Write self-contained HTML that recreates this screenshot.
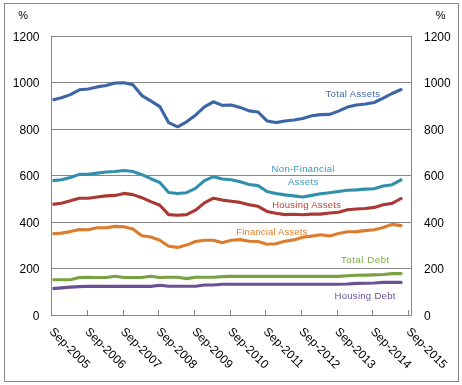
<!DOCTYPE html>
<html><head><meta charset="utf-8"><style>
html,body{margin:0;padding:0;background:#fff;}
body{width:462px;height:385px;overflow:hidden;}
svg{display:block;will-change:transform;}
</style></head><body>
<svg width="462" height="385" viewBox="0 0 462 385">
<rect x="0" y="0" width="462" height="385" fill="#fff"/>
<rect x="4.5" y="3.5" width="454" height="378" fill="none" stroke="#868686" stroke-width="1"/>
<rect x="51" y="36" width="361" height="1" fill="#868686"/>
<rect x="51" y="82" width="361" height="1" fill="#868686"/>
<rect x="51" y="129" width="361" height="1" fill="#868686"/>
<rect x="51" y="175" width="361" height="1" fill="#868686"/>
<rect x="51" y="222" width="361" height="1" fill="#868686"/>
<rect x="51" y="268" width="361" height="1" fill="#868686"/>
<rect x="51" y="36" width="1" height="280" fill="#868686"/>
<rect x="411" y="36" width="1" height="280" fill="#868686"/>
<rect x="51" y="315" width="361" height="1" fill="#868686"/>
<rect x="87" y="310" width="1" height="5" fill="#868686"/>
<rect x="123" y="310" width="1" height="5" fill="#868686"/>
<rect x="158" y="310" width="1" height="5" fill="#868686"/>
<rect x="194" y="310" width="1" height="5" fill="#868686"/>
<rect x="230" y="310" width="1" height="5" fill="#868686"/>
<rect x="265" y="310" width="1" height="5" fill="#868686"/>
<rect x="301" y="310" width="1" height="5" fill="#868686"/>
<rect x="337" y="310" width="1" height="5" fill="#868686"/>
<rect x="372" y="310" width="1" height="5" fill="#868686"/>
<rect x="408" y="310" width="1" height="5" fill="#868686"/>
<polyline points="52.5,99.9 61.4,97.8 70.4,94.6 79.3,89.8 88.2,89.0 97.2,86.9 106.1,85.5 115.1,83.0 124.0,82.7 132.9,84.8 141.9,95.6 150.8,100.9 159.8,106.6 168.7,122.7 177.6,126.8 186.6,121.8 195.5,115.2 204.4,106.9 213.4,101.8 222.3,105.4 231.2,105.0 240.2,107.4 249.1,110.9 258.1,112.0 267.0,120.9 275.9,122.6 284.9,121.0 293.8,120.0 302.8,118.5 311.7,115.8 320.6,114.6 329.6,114.4 338.5,111.1 347.4,107.1 356.4,105.0 365.3,104.0 374.2,102.5 383.2,98.2 392.1,93.5 401.1,89.5" fill="none" stroke="#3d65a5" stroke-width="3.1" stroke-linejoin="round" stroke-linecap="butt"/>
<circle cx="401.06" cy="89.5" r="1.55" fill="#3d65a5"/>
<polyline points="52.5,180.6 61.4,179.8 70.4,177.5 79.3,174.4 88.2,174.4 97.2,173.1 106.1,172.0 115.1,171.5 124.0,170.5 132.9,171.5 141.9,174.7 150.8,178.7 159.8,182.5 168.7,192.5 177.6,193.5 186.6,192.7 195.5,188.4 204.4,180.6 213.4,176.7 222.3,179.0 231.2,179.8 240.2,181.8 249.1,184.5 258.1,185.6 267.0,191.5 275.9,193.5 284.9,194.9 293.8,195.9 302.8,197.0 311.7,195.4 320.6,193.8 329.6,192.7 338.5,191.5 347.4,190.2 356.4,189.9 365.3,189.1 374.2,188.8 383.2,186.0 392.1,184.7 401.1,179.8" fill="none" stroke="#3090ac" stroke-width="3.1" stroke-linejoin="round" stroke-linecap="butt"/>
<circle cx="401.06" cy="179.8" r="1.55" fill="#3090ac"/>
<polyline points="52.5,204.4 61.4,203.2 70.4,200.8 79.3,198.2 88.2,198.2 97.2,197.0 106.1,195.9 115.1,195.4 124.0,193.4 132.9,194.6 141.9,197.7 150.8,201.6 159.8,205.2 168.7,214.6 177.6,215.3 186.6,214.6 195.5,210.2 204.4,202.9 213.4,198.2 222.3,200.1 231.2,201.3 240.2,202.4 249.1,204.7 258.1,206.3 267.0,211.4 275.9,213.3 284.9,214.6 293.8,214.3 302.8,214.7 311.7,214.1 320.6,214.1 329.6,213.0 338.5,212.2 347.4,209.8 356.4,209.0 365.3,208.5 374.2,207.4 383.2,204.7 392.1,203.4 401.1,198.5" fill="none" stroke="#aa3834" stroke-width="3.1" stroke-linejoin="round" stroke-linecap="butt"/>
<circle cx="401.06" cy="198.5" r="1.55" fill="#aa3834"/>
<polyline points="52.5,233.7 61.4,233.1 70.4,231.6 79.3,229.6 88.2,229.7 97.2,227.8 106.1,227.7 115.1,226.4 124.0,226.7 132.9,228.9 141.9,235.7 150.8,237.0 159.8,240.2 168.7,246.2 177.6,247.4 186.6,245.1 195.5,241.5 204.4,240.2 213.4,240.2 222.3,242.7 231.2,240.2 240.2,239.6 249.1,241.2 258.1,241.5 267.0,244.3 275.9,243.8 284.9,241.2 293.8,239.9 302.8,237.3 311.7,236.1 320.6,234.7 329.6,236.0 338.5,233.6 347.4,231.7 356.4,231.6 365.3,230.6 374.2,229.8 383.2,227.5 392.1,224.4 401.1,225.6" fill="none" stroke="#dc7c2e" stroke-width="3.1" stroke-linejoin="round" stroke-linecap="butt"/>
<circle cx="401.06" cy="225.6" r="1.55" fill="#dc7c2e"/>
<polyline points="52.5,279.7 61.4,279.7 70.4,279.7 79.3,277.6 88.2,277.4 97.2,277.5 106.1,277.5 115.1,276.3 124.0,277.5 132.9,277.5 141.9,277.5 150.8,276.3 159.8,277.5 168.7,277.2 177.6,277.3 186.6,278.6 195.5,277.3 204.4,277.3 213.4,277.3 222.3,276.6 231.2,276.4 240.2,276.4 249.1,276.4 258.1,276.4 267.0,276.4 275.9,276.4 284.9,276.4 293.8,276.4 302.8,276.4 311.7,276.4 320.6,276.4 329.6,276.4 338.5,276.4 347.4,275.7 356.4,275.2 365.3,275.1 374.2,274.9 383.2,274.5 392.1,273.6 401.1,273.6" fill="none" stroke="#7aa242" stroke-width="3.1" stroke-linejoin="round" stroke-linecap="butt"/>
<circle cx="401.06" cy="273.6" r="1.55" fill="#7aa242"/>
<polyline points="52.5,288.6 61.4,287.9 70.4,287.1 79.3,286.6 88.2,286.2 97.2,286.4 106.1,286.4 115.1,286.4 124.0,286.4 132.9,286.4 141.9,286.4 150.8,286.4 159.8,285.3 168.7,286.2 177.6,286.3 186.6,286.3 195.5,286.2 204.4,285.0 213.4,285.0 222.3,284.3 231.2,284.2 240.2,284.2 249.1,284.2 258.1,284.2 267.0,284.2 275.9,284.2 284.9,284.2 293.8,284.2 302.8,284.2 311.7,284.2 320.6,284.2 329.6,284.2 338.5,284.2 347.4,284.0 356.4,283.4 365.3,283.3 374.2,283.0 383.2,282.4 392.1,282.3 401.1,282.4" fill="none" stroke="#6a5194" stroke-width="3.1" stroke-linejoin="round" stroke-linecap="butt"/>
<circle cx="401.06" cy="282.4" r="1.55" fill="#6a5194"/>
<g font-family='"Liberation Sans", sans-serif' font-size="12" fill="#000">
<text x="18.3" y="19.2" font-size="11">%</text>
<text x="435.8" y="19.2" font-size="11">%</text>
<text x="39.5" y="41.2" text-anchor="end">1200</text>
<text x="424" y="41.2">1200</text>
<text x="39.5" y="87.2" text-anchor="end">1000</text>
<text x="424" y="87.2">1000</text>
<text x="39.5" y="134.2" text-anchor="end">800</text>
<text x="424" y="134.2">800</text>
<text x="39.5" y="180.2" text-anchor="end">600</text>
<text x="424" y="180.2">600</text>
<text x="39.5" y="227.2" text-anchor="end">400</text>
<text x="424" y="227.2">400</text>
<text x="39.5" y="273.2" text-anchor="end">200</text>
<text x="424" y="273.2">200</text>
<text x="39.5" y="320.2" text-anchor="end">0</text>
<text x="424" y="320.2">0</text>
<text x="0" y="0" transform="translate(55.0,326) rotate(45) translate(0,9)">Sep-2005</text>
<text x="0" y="0" transform="translate(90.7,326) rotate(45) translate(0,9)">Sep-2006</text>
<text x="0" y="0" transform="translate(126.4,326) rotate(45) translate(0,9)">Sep-2007</text>
<text x="0" y="0" transform="translate(162.1,326) rotate(45) translate(0,9)">Sep-2008</text>
<text x="0" y="0" transform="translate(197.8,326) rotate(45) translate(0,9)">Sep-2009</text>
<text x="0" y="0" transform="translate(233.5,326) rotate(45) translate(0,9)">Sep-2010</text>
<text x="0" y="0" transform="translate(269.2,326) rotate(45) translate(0,9)">Sep-2011</text>
<text x="0" y="0" transform="translate(304.9,326) rotate(45) translate(0,9)">Sep-2012</text>
<text x="0" y="0" transform="translate(340.6,326) rotate(45) translate(0,9)">Sep-2013</text>
<text x="0" y="0" transform="translate(376.3,326) rotate(45) translate(0,9)">Sep-2014</text>
<text x="0" y="0" transform="translate(412.0,326) rotate(45) translate(0,9)">Sep-2015</text>
</g>
<text x="325.5" y="96.5" font-family='"Liberation Sans", sans-serif' font-size="9.5" letter-spacing="0.35" fill="#3e68a8" text-anchor="start">Total Assets</text>
<text x="303.2" y="172" font-family='"Liberation Sans", sans-serif' font-size="9.5" letter-spacing="0.35" fill="#3399b8" text-anchor="middle">Non-Financial</text>
<text x="303.2" y="184.5" font-family='"Liberation Sans", sans-serif' font-size="9.5" letter-spacing="0.35" fill="#3399b8" text-anchor="middle">Assets</text>
<text x="272.2" y="207.9" font-family='"Liberation Sans", sans-serif' font-size="9.5" letter-spacing="0.25" fill="#b8403c" text-anchor="start">Housing Assets</text>
<text x="236.3" y="235" font-family='"Liberation Sans", sans-serif' font-size="9.5" letter-spacing="0.15" fill="#e0802c" text-anchor="start">Financial Assets</text>
<text x="341.0" y="262.5" font-family='"Liberation Sans", sans-serif' font-size="9.5" letter-spacing="0.6" fill="#7ba843" text-anchor="start">Total Debt</text>
<text x="334.5" y="298.6" font-family='"Liberation Sans", sans-serif' font-size="9.5" letter-spacing="0.3" fill="#6a4e9c" text-anchor="start">Housing Debt</text>
</svg>
</body></html>
